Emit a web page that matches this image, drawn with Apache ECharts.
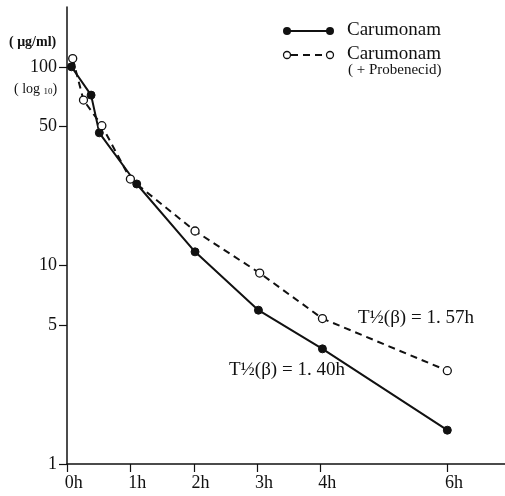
<!DOCTYPE html>
<html>
<head>
<meta charset="utf-8">
<script src="https://cdn.jsdelivr.net/npm/echarts@6/dist/echarts.min.js"></script>
<style>
  html, body { margin: 0; padding: 0; background: #fff; }
  #chart { width: 505px; height: 496px; }
</style>
</head>
<body>
<div id="chart"></div>
<script>
// hours after dosing
const timeCarumonam = [0.07, 0.38, 0.51, 1.1, 2.02, 3.02, 4.03, 6.0]
const valCarumonam = [100, 72, 46.5, 25.7, 11.7, 5.95, 3.8, 1.48]
const timeProbenecid = [0.09, 0.26, 0.55, 1.0, 2.02, 3.04, 4.03, 6.0]
const valProbenecid = [110, 68, 50.5, 27.2, 14.9, 9.15, 5.4, 2.95]
const xTicks = [0, 1, 2, 3, 4, 6]
const yTicks = [1, 5, 10, 50, 100]

const serif = '"Liberation Serif", "DejaVu Serif", serif'
const chart = echarts.init(document.getElementById('chart'))

const pairs = (xs, ys) => xs.map((x, i) => [x, ys[i]])

chart.setOption({
  animation: false,
  grid: { left: 67, right: 0, top: 7, bottom: 32 },
  xAxis: {
    type: 'value',
    min: 0,
    max: 6.91,
    axisLine: { lineStyle: { color: '#111', width: 1.5 } },
    axisTick: { customValues: xTicks, length: 8, lineStyle: { color: '#111', width: 1.2 } },
    axisLabel: {
      customValues: xTicks,
      // digit sits on the tick, the "h" hangs to the right
      formatter: v => '   ' + v + 'h',
      color: '#111',
      fontFamily: serif,
      fontSize: 18,
      margin: 10
    },
    splitLine: { show: false }
  },
  yAxis: {
    type: 'log',
    min: 1,
    max: 200,
    axisLine: { show: true, lineStyle: { color: '#111', width: 1.5 } },
    axisTick: { show: true, customValues: yTicks, length: 8, lineStyle: { color: '#111', width: 1.2 } },
    axisLabel: {
      customValues: yTicks,
      color: '#111',
      fontFamily: serif,
      fontSize: 18,
      margin: 10
    },
    splitLine: { show: false }
  },
  series: [
    {
      name: 'Carumonam',
      type: 'line',
      data: pairs(timeCarumonam, valCarumonam),
      symbol: 'circle',
      symbolSize: 8,
      itemStyle: { color: '#111', borderColor: '#111' },
      lineStyle: { color: '#111', width: 2 }
    },
    {
      name: 'Carumonam (+Probenecid)',
      type: 'line',
      data: pairs(timeProbenecid, valProbenecid),
      symbol: 'circle',
      symbolSize: 8,
      itemStyle: { color: '#fff', borderColor: '#111', borderWidth: 1.3 },
      lineStyle: { color: '#111', width: 2, type: [7, 5] }
    }
  ],
  graphic: [
    // unit labels
    { type: 'text', left: 9, top: 35, style: { text: '( μg/ml)', font: '600 14px ' + serif, fill: '#111' } },
    {
      type: 'text', left: 14, top: 82,
      style: {
        text: '( log {s|10})',
        font: '14px ' + serif,
        fill: '#111',
        rich: { s: { fontSize: 9, fontFamily: serif, verticalAlign: 'bottom' } }
      }
    },
    // legend
    { type: 'line', shape: { x1: 287, y1: 31, x2: 330, y2: 31 }, style: { stroke: '#111', lineWidth: 2 } },
    { type: 'circle', shape: { cx: 287, cy: 31, r: 4 }, style: { fill: '#111' } },
    { type: 'circle', shape: { cx: 330, cy: 31, r: 4 }, style: { fill: '#111' } },
    { type: 'text', left: 347, top: 21, style: { text: 'Carumonam', font: '19px ' + serif, fill: '#111' } },
    { type: 'line', shape: { x1: 291, y1: 55, x2: 326, y2: 55 }, style: { stroke: '#111', lineWidth: 2, lineDash: [7, 5] } },
    { type: 'circle', shape: { cx: 287, cy: 55, r: 3.5 }, style: { fill: '#fff', stroke: '#111', lineWidth: 1.3 } },
    { type: 'circle', shape: { cx: 330, cy: 55, r: 3.5 }, style: { fill: '#fff', stroke: '#111', lineWidth: 1.3 } },
    { type: 'text', left: 347, top: 45, style: { text: 'Carumonam', font: '19px ' + serif, fill: '#111' } },
    { type: 'text', left: 348, top: 63, style: { text: '( + Probenecid)', font: '15px ' + serif, fill: '#111' } },
    // half-life annotations
    { type: 'text', left: 358, top: 309, style: { text: 'T½(β) = 1. 57h', font: '19px ' + serif, fill: '#111' } },
    { type: 'text', left: 229, top: 361, style: { text: 'T½(β) = 1. 40h', font: '19px ' + serif, fill: '#111' } }
  ]
})
</script>
</body>
</html>
